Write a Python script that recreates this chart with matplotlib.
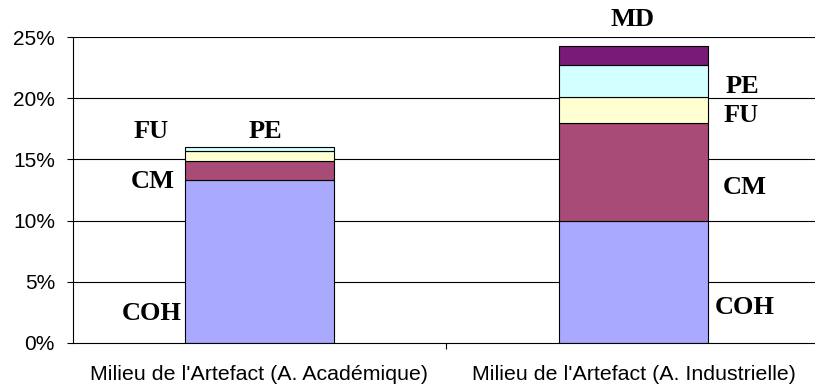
import matplotlib
matplotlib.use("Agg")
import matplotlib.pyplot as plt
import numpy as np

# Categories and stacked shares (percent)
categories = ["Milieu de l'Artefact (A. Académique)",
              "Milieu de l'Artefact (A. Industrielle)"]
series_names = ["COH", "CM", "FU", "PE", "MD"]
coh = [13.3, 10.0]
cm = [1.6, 8.0]
fu = [0.8, 2.1]
pe = [0.3, 2.6]
md = [0.0, 1.6]
y_ticks = [0, 5, 10, 15, 20, 25]
y_tick_labels = ["0%", "5%", "10%", "15%", "20%", "25%"]

colors = ["#A9A9FE", "#A84B76", "#FFFFD2", "#D2FFFF", "#7A1A78"]

fig = plt.figure(figsize=(8.15, 3.87), dpi=100)
ax = fig.add_axes([0.0896, 0.1145, 0.9104, 0.789])

x = np.arange(len(categories))
bottom = np.zeros(len(categories))
for name, vals, col in zip(series_names, [coh, cm, fu, pe, md], colors):
    vals = np.array(vals, dtype=float)
    mask = vals > 0
    ax.bar(x[mask], vals[mask], bottom=bottom[mask], width=0.4,
           color=col, edgecolor="black", linewidth=0.8, zorder=3)
    bottom += vals

ax.set_xlim(-0.498, 1.485)
ax.set_ylim(0, 25)

# horizontal gridlines
for t in y_ticks[1:]:
    ax.axhline(t, color="black", linewidth=0.8, zorder=1)

ax.set_yticks(y_ticks)
ax.set_yticklabels(y_tick_labels, family="Liberation Sans", fontsize=15)
ax.tick_params(axis="y", length=4.5, width=0.8, pad=8.5, direction="out")

ax.set_xticks(x)
ax.set_xticklabels(categories, family="Liberation Sans", fontsize=15.4)
ax.tick_params(axis="x", which="major", length=0, pad=16)
ax.set_xticks([0.5], minor=True)
ax.tick_params(axis="x", which="minor", length=4.5, width=0.8, direction="out")

for s in ["top", "right"]:
    ax.spines[s].set_visible(False)
for s in ["left", "bottom"]:
    ax.spines[s].set_linewidth(0.8)
    ax.spines[s].set_zorder(4)

# segment name labels: (category index, x offset, y value, text)
label_spots = [
    (0, -0.29, 17.28, "FU"),
    (0, 0.017, 17.28, "PE"),
    (0, -0.284, 13.23, "CM"),
    (0, -0.287, 2.35, "COH"),
    (1, -0.003, 26.5, "MD"),
    (1, 0.291, 20.97, "PE"),
    (1, 0.288, 18.63, "FU"),
    (1, 0.296, 12.74, "CM"),
    (1, 0.296, 2.85, "COH"),
]
for ci, dx, yv, txt in label_spots:
    ax.text(x[ci] + dx, yv, txt, ha="center", va="center",
            family="Liberation Serif", fontweight="bold", fontsize=19,
            clip_on=False, zorder=5)

fig.savefig("out.png", dpi=100)
